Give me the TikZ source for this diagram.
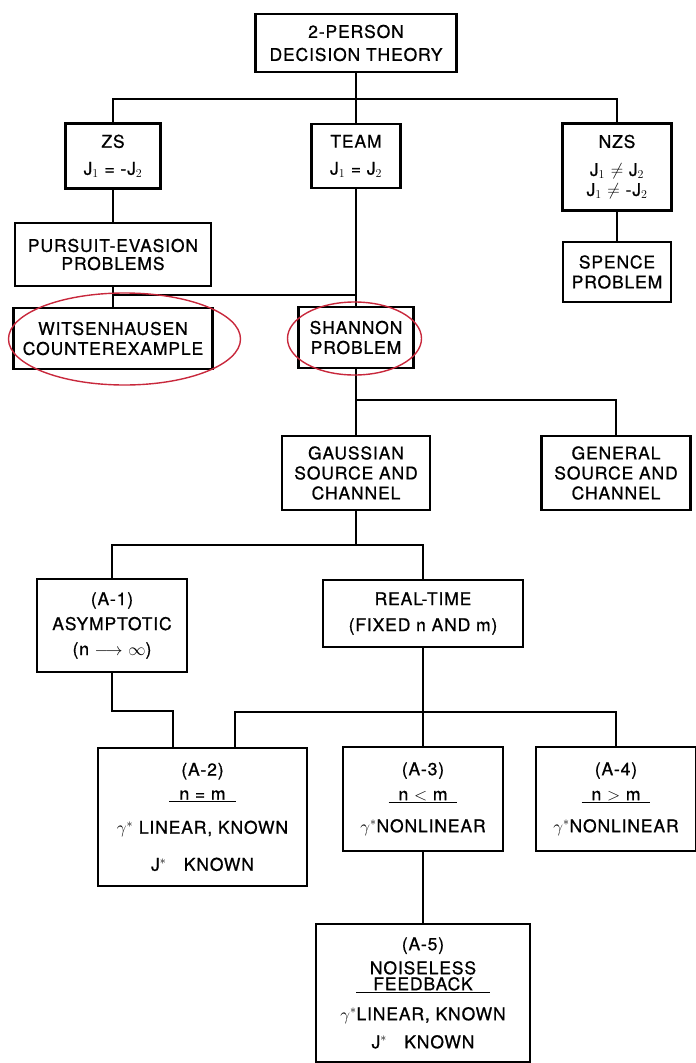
\documentclass[tikz,border=0pt]{standalone}
\usepackage{fontspec}
\usepackage{tikz}
\usetikzlibrary{calc}
\newfontfamily\leroy[LetterSpace=5,FakeBold=0.8]{TeX Gyre Heros}
\newcommand{\lettering}{\leroy\fontsize{17.5}{20}\selectfont}
\definecolor{Marker}{HTML}{C8283C}

\begin{document}
\begin{tikzpicture}[x=1pt,y=-1pt,
  box/.style 2 args={draw,line width=2.2pt,inner sep=0pt,align=center,font=\lettering,minimum width=#1,minimum height=#2},
  wire/.style={line width=1.8pt},
  ring/.style={draw=Marker,line width=1.4pt}
]
\useasboundingbox (0,0) rectangle (696,1063);
\node[box={201pt}{58pt}] (dt) at (356,43) {2-PERSON\\[3pt]DECISION THEORY};
\node[box={95pt}{65pt}] (zs) at (113,156) {ZS\\[7pt]J$_1$ = -J$_2$};
\node[box={89pt}{64pt}] (team) at (356,156) {TEAM\\[7pt]J$_1$ = J$_2$};
\node[box={109pt}{87pt}] (nzs) at (617,167) {NZS\\[8pt]J$_1$ $\neq$ J$_2$\\J$_1$ $\neq$ -J$_2$};
\node[box={196pt}{63pt}] (pe) at (113,254.5) {PURSUIT-EVASION\\[-2pt]PROBLEMS};
\node[box={108pt}{60pt}] (sp) at (617,272) {SPENCE\\PROBLEM};
\node[box={199pt}{61pt}] (wc) at (113,338.5) {WITSENHAUSEN\\COUNTEREXAMPLE};
\node[box={115pt}{61pt}] (sh) at (356,337.5) {SHANNON\\PROBLEM};
\node[box={148pt}{74pt}] (gsc) at (356,473) {GAUSSIAN\\SOURCE AND\\CHANNEL};
\node[box={149pt}{74pt}] (gen) at (616,473) {GENERAL\\SOURCE AND\\CHANNEL};
\node[box={150pt}{93pt}] (a1) at (112,625.5) {(A-1)\\[5pt]ASYMPTOTIC\\[5pt](n $\longrightarrow$ $\infty$)};
\node[box={200pt}{67pt}] (rt) at (423,613.5) {REAL-TIME\\[6pt](FIXED n AND m)};
\node[box={209pt}{138pt}] (a2) at (202.5,817) {(A-2)\\[4pt]\underline{\hspace{10pt}n = m\hspace{10pt}}\\[14pt]$\gamma^{*}$ LINEAR, KNOWN\\[17pt]J$^{*}$\quad KNOWN};
\node[box={160pt}{104pt}] (a3) at (423,799) {(A-3)\\[5pt]\underline{\hspace{10pt}n $<$ m\hspace{10pt}}\\[12pt]$\gamma^{*}$NONLINEAR};
\node[box={160pt}{104pt}] (a4) at (616,799) {(A-4)\\[5pt]\underline{\hspace{10pt}n $>$ m\hspace{10pt}}\\[12pt]$\gamma^{*}$NONLINEAR};
\node[box={214pt}{138pt}] (a5) at (423,993) {(A-5)\\[4pt]NOISELESS\\[-4pt]\underline{\hspace{17pt}FEEDBACK\hspace{17pt}}\\[10pt]$\gamma^{*}$LINEAR, KNOWN\\[8pt]J$^{*}$\quad KNOWN};
\coordinate (j1) at (356,99);
\coordinate (j2) at (356,295);
\coordinate (j3) at (356,400);
\coordinate (j4) at (356,545);
\coordinate (j5) at (423,712);
\coordinate (a2l) at ([xshift=-29.5pt]a2.north);
\coordinate (a2r) at ([xshift=32.5pt]a2.north);
\draw[wire] (dt) -- (team);
\draw[wire] (zs) |- (j1) -| (nzs);
\draw[wire] (zs) -- (pe);
\draw[wire] (nzs) -- (sp);
\draw[wire] (pe) -- (wc);
\draw[wire] (team) -- (sh);
\draw[wire] (pe |- j2) -- (j2);
\draw[wire] (sh) -- (gsc);
\draw[wire] (j3) -| (gen);
\draw[wire] (gsc) -- (j4);
\draw[wire] (a1) |- (j4) -| (rt);
\draw[wire] (rt) -- (a3);
\draw[wire] (a3) -- (a5);
\draw[wire] (a1) |- ([yshift=36pt]a2l) -- (a2l);
\draw[wire] (a2r) |- (j5) -| (a4);
\draw[ring] (124.5,339) ellipse [x radius=116pt,y radius=46pt];
\draw[ring] (354.5,338.5) ellipse [x radius=67pt,y radius=36.5pt];
\end{tikzpicture}
\end{document}
